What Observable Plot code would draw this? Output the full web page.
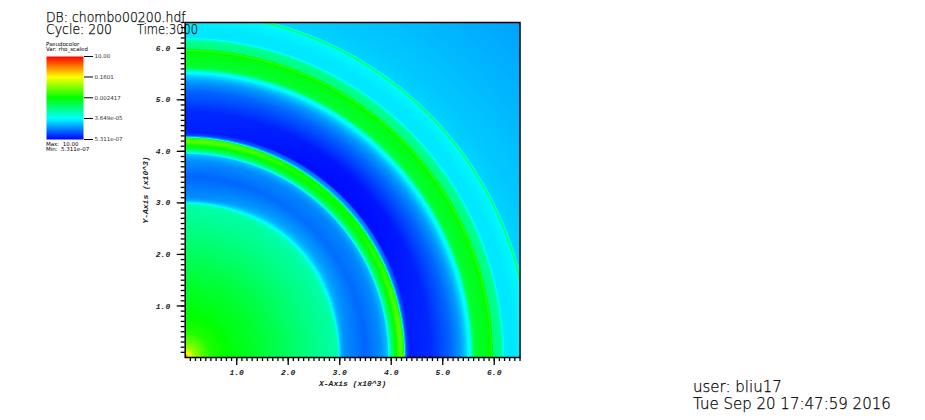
<!DOCTYPE html>
<html><head><meta charset="utf-8">
<script src="https://cdn.jsdelivr.net/npm/d3@7"></script>
<script src="https://cdn.jsdelivr.net/npm/@observablehq/plot@0.6"></script>
<style>
html,body{margin:0;padding:0;background:#fff}
#root{position:relative;width:925px;height:420px;overflow:hidden}
#root svg{position:absolute;background:transparent}
.t{position:absolute;white-space:pre;font-family:"DejaVu Sans";color:#000;line-height:.85;transform-origin:0 0}
</style></head><body><div id="root"></div>
<script>
const legendStops = [5.311e-07, 3.649e-05, 0.002417, 0.1601, 10];
const legendLabels = ["5.311e-07", "3.649e-05", "0.002417", "0.1601", "10.00"];
const legendColors = ["#0000ff", "#00ffff", "#00ff00", "#ffff00", "#ff0000"];
const majorTicks = [1, 2, 3, 4, 5, 6];
const minorTicks = d3.range(1, 66).map(d => d / 10);
const radii = [0,.03,.08,.2,.5,1,1.5,2,2.5,2.9,2.96,3.0,3.04,3.1,3.2,3.5,3.8,3.93,3.97,4.0,4.08,4.18,4.24,4.27,4.3,4.34,4.37,4.76,5.15,5.34,5.44,5.5,5.55,5.59,5.65,5.85,5.92,5.95,5.98,6.0,6.13,6.2,6.4,6.63,6.67,6.71,7,8,9.2];
const logRhoAxis = [.418,-.091,-.82,-1.63,-2.42,-2.75,-3.0,-3.29,-3.58,-3.80,-3.87,-4.60,-5.04,-5.26,-5.33,-5.55,-5.26,-4.89,-4.09,-3.51,-2.78,-1.91,-2.27,-4.82,-5.77,-5.98,-6.06,-5.98,-5.55,-5.18,-4.82,-4.46,-4.24,-3.22,-2.93,-2.78,-2.64,-2.20,-3.37,-3.51,-3.66,-4.60,-4.60,-4.49,-3.37,-4.75,-4.82,-4.96,-5.11];
const logRhoDiag = [.418,-.091,-.82,-1.63,-2.42,-2.75,-3.0,-3.29,-3.58,-3.80,-3.90,-4.00,-4.35,-4.82,-5.11,-5.48,-5.33,-5.04,-4.24,-3.51,-2.86,-2.49,-2.78,-4.82,-5.26,-5.40,-6.20,-6.13,-5.55,-5.18,-4.82,-4.46,-4.24,-3.22,-2.93,-2.78,-2.64,-2.20,-3.37,-3.51,-3.66,-4.60,-4.60,-4.49,-3.37,-4.75,-4.82,-4.96,-5.11];
const headerTexts = [["DB: chombo00200.hdf",46,11,14,.89,200],["Cycle: 200",46,23,14,.89,200],["Time:3000",137,23,14,.82,200],
  ["user: bliu17",693,379,16.5,.91,200],["Tue Sep 20 17:47:59 2016",693,396,16.5,.91,200],
  ["Pseudocolor",46,41.5,5.5,1,400],["Var: rho_scaled",46,47,5.5,1,400],["Max:  10.00",46,142,5.5,1,400],["Min:  5.311e-07",46,147,5.5,1,400]];

const root = document.getElementById("root");
const colorScale = {type:"log", domain:legendStops, range:legendColors};
const interp = (arr, r) => {
  const i = Math.min(d3.bisectRight(radii, r), radii.length - 1), a = radii[i-1], b = radii[i];
  return arr[i-1] + (arr[i]-arr[i-1]) * (r-a)/(b-a);
};
const density = (x, y) => {
  const r = Math.hypot(x, y), s = Math.sin(2*Math.atan2(y, x)), w = s*s;
  return 10 ** (interp(logRhoAxis, r)*(1-w) + interp(logRhoDiag, r)*w);
};
const axisFont = {fontFamily:"Liberation Mono", fontSize:8, fontWeight:"bold", fontStyle:"italic"};
const main = Plot.plot({
  width:925, height:420, marginLeft:184.7, marginRight:405.5, marginTop:22, marginBottom:63,
  style:{background:"transparent"},
  x:{domain:[0,6.5]}, y:{domain:[0,6.5]}, color:colorScale,
  marks:[
    Plot.raster({fill:density, x1:0, x2:6.5, y1:0, y2:6.5, pixelSize:1, imageRendering:"pixelated"}),
    Plot.axisX({ticks:minorTicks, tickSize:4, tickFormat:()=>"", label:null, strokeWidth:1.3, stroke:"black"}),
    Plot.axisY({ticks:minorTicks, tickSize:4, tickFormat:()=>"", label:null, strokeWidth:1.3, stroke:"black"}),
    Plot.axisX({ticks:majorTicks, tickSize:8, tickPadding:4, tickFormat:d=>d.toFixed(1), label:"X-Axis (x10^3)", labelArrow:"none", labelAnchor:"center", labelOffset:28, strokeWidth:1.3, stroke:"black", fill:"#222", ...axisFont}),
    Plot.axisY({ticks:majorTicks, tickSize:8, tickPadding:7, tickFormat:d=>d.toFixed(1), label:"Y-Axis (x10^3)", labelArrow:"none", labelAnchor:"center", labelOffset:43, strokeWidth:1.3, stroke:"black", fill:"#222", ...axisFont}),
    Plot.frame({stroke:"black", strokeWidth:1.5})
  ]
});
main.style.left="0"; main.style.top="0";
root.append(main);

const legendLogs = legendStops.map(Math.log10);
const legend = Plot.plot({
  width:125, height:142, marginLeft:46, marginRight:42, marginTop:56, marginBottom:3,
  style:{background:"transparent"},
  x:{domain:[0,1], axis:null}, y:{domain:[legendLogs[0],legendLogs[4]]}, color:colorScale,
  marks:[
    Plot.raster({fill:(x,y)=>10**y, x1:0, x2:1, y1:legendLogs[0], y2:legendLogs[4], pixelSize:1}),
    Plot.axisY({anchor:"right", ticks:legendLogs, tickSize:9, tickPadding:2, tickFormat:(d,i)=>legendLabels[i], label:null, fontSize:5.5, fontFamily:"DejaVu Sans", fill:"#333", strokeWidth:1})
  ]
});
legend.style.left="0"; legend.style.top="0"; legend.style.overflow="visible";
root.append(legend);

for (const [s,x,y,f,k,w] of headerTexts) {
  const d=document.createElement("div"); d.className="t"; d.textContent=s;
  d.style.left=x+"px"; d.style.top=(y+f*.07)+"px"; d.style.fontSize=f+"px"; d.style.fontWeight=w;
  d.style.transform=`scaleX(${k})`;
  if (f>10) d.style.webkitTextStroke=".25px #000";
  root.append(d);
}
</script></body></html>
